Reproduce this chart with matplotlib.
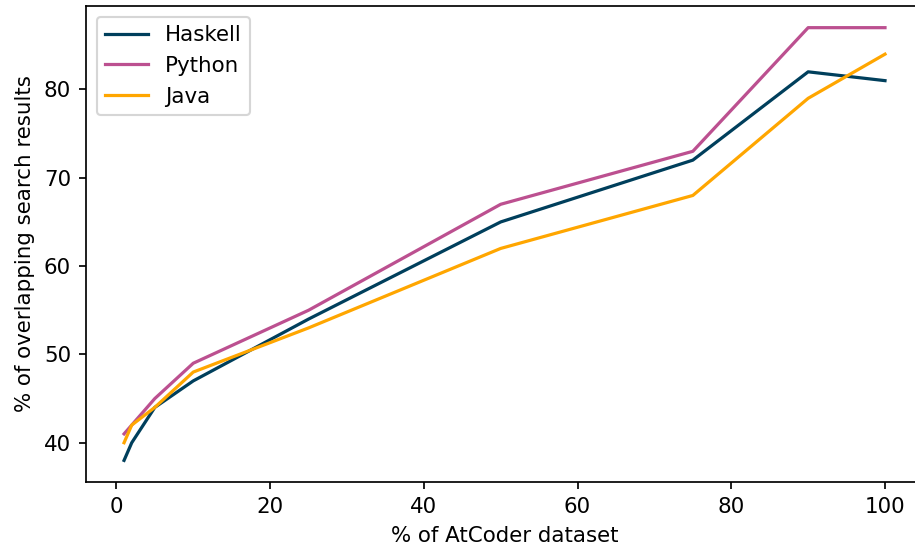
import matplotlib
matplotlib.use('Agg')
import matplotlib.pyplot as plt

# % of dataset used
x = [1, 2, 5, 10, 25, 50, 75, 90, 100]

# % of overlapping search results
haskell = [38, 40, 44, 47, 54, 65, 72, 82, 81]
python = [41, 42, 45, 49, 55, 67, 73, 87, 87]
java = [40, 42, 44, 48, 53, 62, 68, 79, 84]

# small figure saved at high dpi, like the reference
dpi = 154
fig = plt.figure(figsize=(915 / dpi, 548 / dpi), dpi=dpi)
# right spine falls just outside the picture in the reference
ax = fig.add_axes([0.094, 0.1204, 0.9148, 0.8686])
ax.spines['right'].set_visible(False)

ax.plot(x, haskell, color='#003f5c', label='Haskell')
ax.plot(x, python, color='#bc5090', label='Python')
ax.plot(x, java, color='#ffa600', label='Java')

ax.set_xlabel('% of AtCoder dataset')
ax.set_ylabel('% of overlapping search results')
ax.legend(loc='upper left')

fig.savefig('out.png', dpi=dpi)
